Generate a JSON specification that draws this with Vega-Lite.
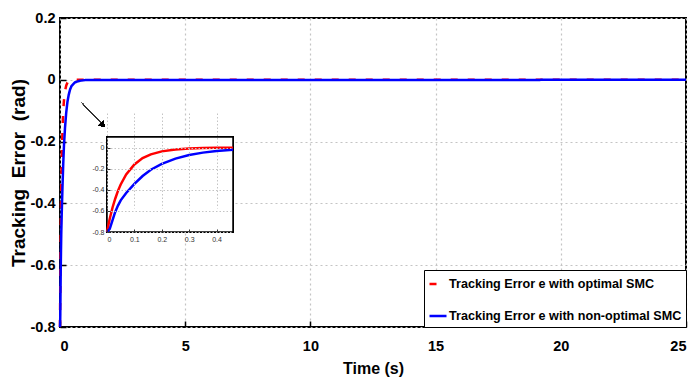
{
  "$schema": "https://vega.github.io/schema/vega-lite/v6.json",
  "width": 626,
  "height": 309,
  "autosize": {"type": "none"},
  "padding": {"left": 60, "top": 18, "right": 6, "bottom": 54},
  "background": "white",
  "config": {
    "view": {"stroke": "black", "strokeWidth": 2},
    "font": "Liberation Sans, Arial"
  },
  "data": {
    "values": [
      {"t": 0, "e": -0.8, "series": "Tracking Error e with optimal SMC"},
      {"t": 0.005, "e": -0.735, "series": "Tracking Error e with optimal SMC"},
      {"t": 0.01, "e": -0.675, "series": "Tracking Error e with optimal SMC"},
      {"t": 0.02, "e": -0.57, "series": "Tracking Error e with optimal SMC"},
      {"t": 0.03, "e": -0.485, "series": "Tracking Error e with optimal SMC"},
      {"t": 0.04, "e": -0.41, "series": "Tracking Error e with optimal SMC"},
      {"t": 0.05, "e": -0.35, "series": "Tracking Error e with optimal SMC"},
      {"t": 0.07, "e": -0.255, "series": "Tracking Error e with optimal SMC"},
      {"t": 0.1, "e": -0.16, "series": "Tracking Error e with optimal SMC"},
      {"t": 0.13, "e": -0.1, "series": "Tracking Error e with optimal SMC"},
      {"t": 0.16, "e": -0.065, "series": "Tracking Error e with optimal SMC"},
      {"t": 0.2, "e": -0.036, "series": "Tracking Error e with optimal SMC"},
      {"t": 0.25, "e": -0.018, "series": "Tracking Error e with optimal SMC"},
      {"t": 0.3, "e": -0.009, "series": "Tracking Error e with optimal SMC"},
      {"t": 0.35, "e": -0.005, "series": "Tracking Error e with optimal SMC"},
      {"t": 0.4, "e": -0.002, "series": "Tracking Error e with optimal SMC"},
      {"t": 0.46, "e": -0.001, "series": "Tracking Error e with optimal SMC"},
      {"t": 0.6, "e": 0, "series": "Tracking Error e with optimal SMC"},
      {"t": 1, "e": 0, "series": "Tracking Error e with optimal SMC"},
      {"t": 25, "e": 0, "series": "Tracking Error e with optimal SMC"},
      {"t": 0, "e": -0.8, "series": "Tracking Error e with non-optimal SMC"},
      {"t": 0.01, "e": -0.77, "series": "Tracking Error e with non-optimal SMC"},
      {"t": 0.02, "e": -0.69, "series": "Tracking Error e with non-optimal SMC"},
      {"t": 0.03, "e": -0.61, "series": "Tracking Error e with non-optimal SMC"},
      {"t": 0.04, "e": -0.55, "series": "Tracking Error e with non-optimal SMC"},
      {"t": 0.05, "e": -0.5, "series": "Tracking Error e with non-optimal SMC"},
      {"t": 0.07, "e": -0.43, "series": "Tracking Error e with non-optimal SMC"},
      {"t": 0.1, "e": -0.345, "series": "Tracking Error e with non-optimal SMC"},
      {"t": 0.13, "e": -0.27, "series": "Tracking Error e with non-optimal SMC"},
      {"t": 0.16, "e": -0.21, "series": "Tracking Error e with non-optimal SMC"},
      {"t": 0.2, "e": -0.155, "series": "Tracking Error e with non-optimal SMC"},
      {"t": 0.25, "e": -0.105, "series": "Tracking Error e with non-optimal SMC"},
      {"t": 0.3, "e": -0.07, "series": "Tracking Error e with non-optimal SMC"},
      {"t": 0.35, "e": -0.048, "series": "Tracking Error e with non-optimal SMC"},
      {"t": 0.4, "e": -0.032, "series": "Tracking Error e with non-optimal SMC"},
      {"t": 0.46, "e": -0.02, "series": "Tracking Error e with non-optimal SMC"},
      {"t": 0.6, "e": -0.008, "series": "Tracking Error e with non-optimal SMC"},
      {"t": 0.8, "e": -0.003, "series": "Tracking Error e with non-optimal SMC"},
      {"t": 1, "e": -0.001, "series": "Tracking Error e with non-optimal SMC"},
      {"t": 25, "e": 0, "series": "Tracking Error e with non-optimal SMC"}
    ]
  },
  "resolve": {"scale": {"x": "independent", "y": "independent"}, "axis": {"x": "independent", "y": "independent"}},
  "layer": [
    {
      "encoding": {
        "x": {
          "field": "t", "type": "quantitative",
          "scale": {"domain": [0, 25], "nice": false, "zero": false},
          "axis": {
            "orient": "bottom", "values": [0, 5, 10, 15, 20, 25], "title": "Time (s)",
            "titleFontSize": 16, "titleFontWeight": "bold", "titleColor": "black", "titlePadding": 8,
            "labelFontSize": 14.5, "labelFontWeight": "bold", "labelColor": "black", "labelPadding": 18,
            "domain": false, "tickSize": -6, "tickColor": "black", "tickWidth": 1.5,
            "grid": true, "gridDash": [2, 3], "gridColor": "#c4c4c4", "gridWidth": 1.2
          }
        },
        "y": {
          "field": "e", "type": "quantitative",
          "scale": {"domain": [-0.8, 0.2], "nice": false, "zero": false},
          "axis": {
            "orient": "left", "values": [0.2, 0, -0.2, -0.4, -0.6, -0.8], "title": "Tracking\u00a0\u00a0Error\u00a0\u00a0(rad)",
            "labelExpr": "'' + datum.value",
            "titleFontSize": 19, "titleFontWeight": "bold", "titleColor": "black", "titlePadding": 2,
            "labelFontSize": 14.5, "labelFontWeight": "bold", "labelColor": "black", "labelPadding": 11,
            "domain": false, "tickSize": -6, "tickColor": "black", "tickWidth": 1.5,
            "grid": true, "gridDash": [2, 3], "gridColor": "#c4c4c4", "gridWidth": 1.2
          }
        }
      },
      "layer": [
        {
          "transform": [{"filter": "datum.series == 'Tracking Error e with optimal SMC'"}],
          "mark": {"type": "line", "strokeWidth": 2.5},
          "encoding": {
            "color": {"field": "series", "type": "nominal",
              "scale": {"domain": ["Tracking Error e with optimal SMC", "Tracking Error e with non-optimal SMC"], "range": ["#ff0000", "#0000ff"]},
              "legend": {"title": null, "orient": "bottom-right", "offset": 0, "strokeColor": "black", "fillColor": "white",
                "padding": 4, "rowPadding": 15, "labelFontSize": 12.6, "labelFontWeight": "bold", "labelColor": "black",
                "symbolType": "stroke", "symbolStrokeWidth": 2.5, "symbolSize": 289, "labelOffset": 1, "labelLimit": 400}},
            "strokeDash": {"field": "series", "type": "nominal",
              "scale": {"domain": ["Tracking Error e with optimal SMC", "Tracking Error e with non-optimal SMC"], "range": [[7, 10], [1, 0]]},
              "legend": {"title": null}}
          }
        },
        {
          "transform": [{"filter": "datum.series == 'Tracking Error e with non-optimal SMC'"}],
          "mark": {"type": "line", "strokeWidth": 2.5},
          "encoding": {
            "color": {"field": "series", "type": "nominal"},
            "strokeDash": {"field": "series", "type": "nominal"}
          }
        },
        {
          "mark": {"type": "rule", "color": "#333333", "strokeWidth": 1},
          "encoding": {
            "x": {"datum": 0.88, "type": "quantitative"},
            "y": {"datum": -0.075, "type": "quantitative"},
            "x2": {"datum": 1.71},
            "y2": {"datum": -0.146}
          }
        },
        {
          "mark": {"type": "point", "shape": "triangle-up", "filled": true, "color": "black", "size": 40, "angle": 136, "opacity": 1},
          "encoding": {
            "x": {"datum": 1.71, "type": "quantitative"},
            "y": {"datum": -0.146, "type": "quantitative"}
          }
        }
      ]
    },
    {
      "layer": [
        {
          "mark": {"type": "rect", "fill": "white", "stroke": "black", "strokeWidth": 1.5},
          "encoding": {
            "x": {"datum": 0, "type": "quantitative"},
            "x2": {"datum": 0.46},
            "y": {"datum": -0.8, "type": "quantitative"},
            "y2": {"datum": 0.1}
          }
        },
        {
          "transform": [{"filter": "datum.t <= 0.46"}],
          "mark": {"type": "line", "strokeWidth": 2.5},
          "encoding": {
            "x": {
              "field": "t", "type": "quantitative",
              "scale": {"domain": [0, 0.46], "range": [47, 173], "nice": false, "zero": false},
              "axis": {
                "orient": "bottom", "offset": -95, "values": [0, 0.1, 0.2, 0.3, 0.4], "title": null,
                "labelExpr": "'' + datum.value",
                "labelFontSize": 7, "labelColor": "#333333", "labelPadding": 6, "labelFont": "Liberation Sans",
                "domain": false, "tickSize": -3, "tickColor": "#333333", "zindex": 1,
                "grid": true, "gridDash": [1.5, 2], "gridColor": "#c4c4c4", "gridWidth": 1
              }
            },
            "y": {
              "field": "e", "type": "quantitative",
              "scale": {"domain": [-0.8, 0.1], "range": [214, 119], "nice": false, "zero": false},
              "axis": {
                "orient": "left", "offset": -47, "values": [0, -0.2, -0.4, -0.6, -0.8], "title": null,
                "labelExpr": "'' + datum.value",
                "labelFontSize": 7, "labelColor": "#333333", "labelPadding": 6, "labelFont": "Liberation Sans",
                "domain": false, "tickSize": -3, "tickColor": "#333333", "zindex": 1,
                "grid": true, "gridDash": [1.5, 2], "gridColor": "#c4c4c4", "gridWidth": 1
              }
            },
            "color": {"field": "series", "type": "nominal"}
          }
        }
      ]
    }
  ]
}
